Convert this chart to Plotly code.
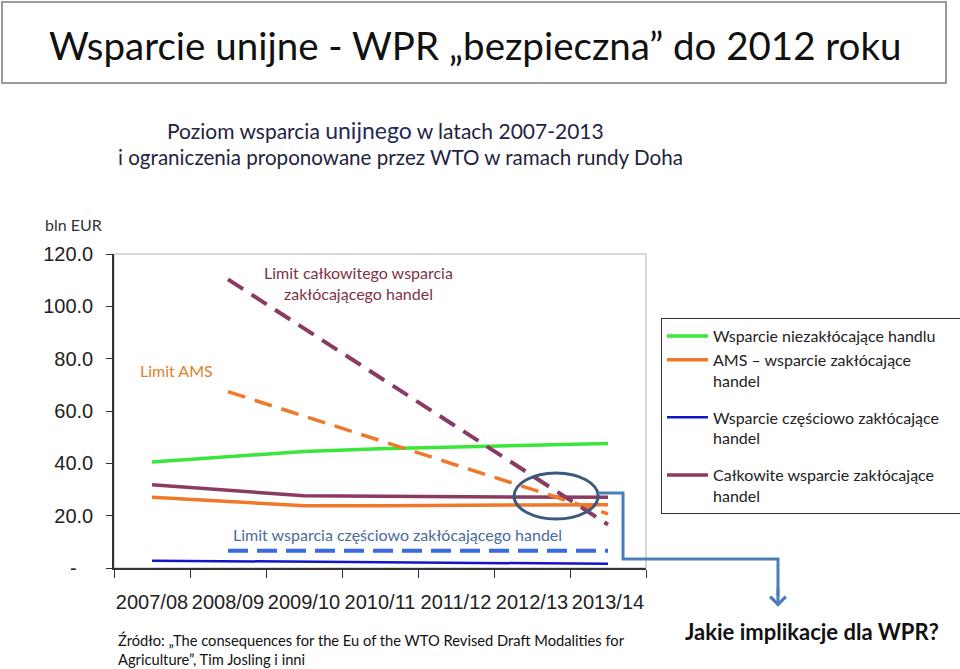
import plotly.graph_objects as go

# dane (mld EUR)
years = ["2007/08", "2008/09", "2009/10", "2010/11", "2011/12", "2012/13", "2013/14"]
limit_years = ["2008/09", "2009/10", "2010/11", "2011/12", "2012/13", "2013/14"]

niezaklocajace = [40.5, 42.5, 44.5, 45.6, 46.3, 47.0, 47.6]
ams = [27.0, 25.5, 23.8, 23.8, 23.8, 24.1, 24.2]
czesciowo = [2.8, 2.6, 2.4, 2.3, 2.1, 1.9, 1.6]
calkowite = [31.8, 29.7, 27.6, 27.4, 27.2, 27.1, 27.0]

limit_calkowite = [110.3, 91.5, 72.8, 54.0, 35.3, 16.6]
limit_ams = [67.4, 58.1, 48.7, 39.4, 30.0, 20.7]
limit_czesciowo = [6.6, 6.6, 6.6, 6.6, 6.6, 6.6]

y_ticks = [0, 20, 40, 60, 80, 100, 120]
y_ticktext = ["-<span style='color:white'>0.</span>", "20.0", "40.0", "60.0", "80.0", "100.0", "120.0"]
grid_vals = [20, 40, 60, 80, 100]

GREEN = "#3BE63B"
ORANGE = "#F0782A"
PURPLE = "#8B3A62"
BLUE = "#1414C8"
BLUE_DASH = "#3A6AE0"
CAL = "Lato, 'Open Sans', sans-serif"
ARIAL = "'Liberation Sans', Arial, sans-serif"

fig = go.Figure()

fig.add_trace(go.Scatter(x=years, y=niezaklocajace, mode="lines",
                         name="Wsparcie niezakłócające handlu\u00a0\u00a0\u00a0\u00a0\u00a0",
                         legendgroup="a", line=dict(color=GREEN, width=3.5)))
fig.add_trace(go.Scatter(x=years, y=ams, mode="lines",
                         name="AMS – wsparcie zakłócające<br>handel", legendgroup="a",
                         line=dict(color=ORANGE, width=3.5)))
fig.add_trace(go.Scatter(x=years, y=czesciowo, mode="lines",
                         name="Wsparcie częściowo zakłócające<br>handel", legendgroup="b",
                         line=dict(color=BLUE, width=2.5)))
fig.add_trace(go.Scatter(x=years, y=calkowite, mode="lines",
                         name="Całkowite wsparcie zakłócające<br>handel", legendgroup="c",
                         line=dict(color=PURPLE, width=3.5)))

fig.add_trace(go.Scatter(x=limit_years, y=limit_czesciowo, mode="lines", showlegend=False,
                         line=dict(color=BLUE_DASH, width=4, dash="20px,9px")))
fig.add_trace(go.Scatter(x=limit_years, y=limit_ams, mode="lines", showlegend=False,
                         line=dict(color=ORANGE, width=3.5, dash="18px,10px")))
fig.add_trace(go.Scatter(x=limit_years, y=limit_calkowite, mode="lines", showlegend=False,
                         line=dict(color=PURPLE, width=4, dash="18px,10px")))

# obramowanie obszaru wykresu
fig.add_shape(type="rect", xref="paper", yref="paper", x0=0, x1=1, y0=0, y1=1,
              line=dict(color="#b0b0b0", width=1), layer="below")
# ramka tytułu
fig.add_shape(type="rect", xref="paper", yref="paper", x0=-0.2105, x1=1.5639, y0=1.5446, y1=1.8025,
              line=dict(color="#9a9a9a", width=2))
# elipsa i strzałka
fig.add_shape(type="circle", xref="paper", yref="paper", x0=0.752, x1=0.910, y0=0.156, y1=0.3025,
              line=dict(color="#3B5A80", width=3))
fig.add_shape(type="path", xref="paper", yref="paper",
              path="M 0.9098 0.2389 H 0.9568 V 0.0287 H 1.2481 V -0.09",
              line=dict(color="#4A7EBB", width=3))
fig.add_annotation(x=1.2481, y=-0.1235, xref="paper", yref="paper", ax=0, ay=-20,
                   text="", showarrow=True, arrowhead=4, arrowsize=1, arrowwidth=3,
                   arrowcolor="#4A7EBB")

ann = [
    dict(x=0.6795, y=1.6656, text="Wsparcie unijne - WPR „bezpieczna” do 2012 roku",
         font=dict(size=38.5, color="#111111", family=CAL)),
    dict(x=0.5103, y=1.3949,
         text="Poziom wsparcia <span style='font-size:23px;color:#1F2A5C'>unijnego</span> w latach 2007-2013",
         font=dict(size=21, color="#1F2440", family=CAL)),
    dict(x=0.5385, y=1.3089, text="i ograniczenia proponowane przez WTO w ramach rundy Doha",
         font=dict(size=20.6, color="#1F2440", family=CAL)),
    dict(x=-0.1335, y=1.0955, text="bln EUR", xanchor="left",
         font=dict(size=16, color="#333333", family=CAL)),
    dict(x=0.4596, y=0.9092, text="Limit całkowitego wsparcia<br>zakłócającego handel",
         font=dict(size=16, color="#7E3345", family=CAL)),
    dict(x=0.1175, y=0.6274, text="Limit AMS",
         font=dict(size=16, color="#E0802A", family=CAL)),
    dict(x=0.532, y=0.1051, text="Limit wsparcia częściowo zakłócającego handel",
         font=dict(size=16, color="#4A6A9C", family=CAL)),
    dict(x=0.0038, y=-0.2611, xanchor="left", align="left",
         text="Źródło: „The consequences for the Eu of the WTO Revised Draft Modalities for<br>Agriculture”, Tim Josling i inni",
         font=dict(size=14.7, color="#111111", family=CAL)),
    dict(x=1.3111, y=-0.2038, text="<b>Jakie implikacje dla WPR?</b>",
         font=dict(size=22, color="#111111", family=CAL)),
]
for a in ann:
    a.setdefault("xanchor", "center")
    fig.add_annotation(xref="paper", yref="paper", yanchor="middle", showarrow=False, **a)

fig.update_layout(
    width=960, height=669,
    margin=dict(l=114, r=314, t=254, b=101, autoexpand=False),
    paper_bgcolor="white", plot_bgcolor="white",
    showlegend=True,
    legend=dict(x=1.0282, y=0.796, xanchor="left", yanchor="top",
                bordercolor="#333333", borderwidth=1, tracegroupgap=13, itemwidth=41,
                valign="top", font=dict(size=16, color="#222222", family=CAL)),
    xaxis=dict(type="category", range=[-0.5, 6.5], tickson="boundaries", ticks="outside",
               ticklen=8, tickcolor="#333333", showline=True, linecolor="#333333",
               linewidth=1.5, showgrid=False, tickangle=0, ticklabelstandoff=15,
               tickfont=dict(size=20, color="#222222", family=ARIAL)),
    yaxis=dict(range=[0, 120], tickvals=y_ticks, ticktext=y_ticktext, ticks="outside",
               ticklen=6, tickcolor="#333333", showline=True, linecolor="#333333",
               linewidth=1.5, showgrid=False, zeroline=False, ticklabelstandoff=9,
               tickfont=dict(size=20, color="#222222", family=ARIAL)),
    yaxis2=dict(range=[0, 120], overlaying="y", tickvals=grid_vals, showticklabels=False,
                ticks="", showgrid=True, gridcolor="#4a4a4a", gridwidth=1.2,
                zeroline=False, showline=False),
)

fig.write_html("out.html", config={"displayModeBar": False},
               post_script="document.body.style.margin='0';")
